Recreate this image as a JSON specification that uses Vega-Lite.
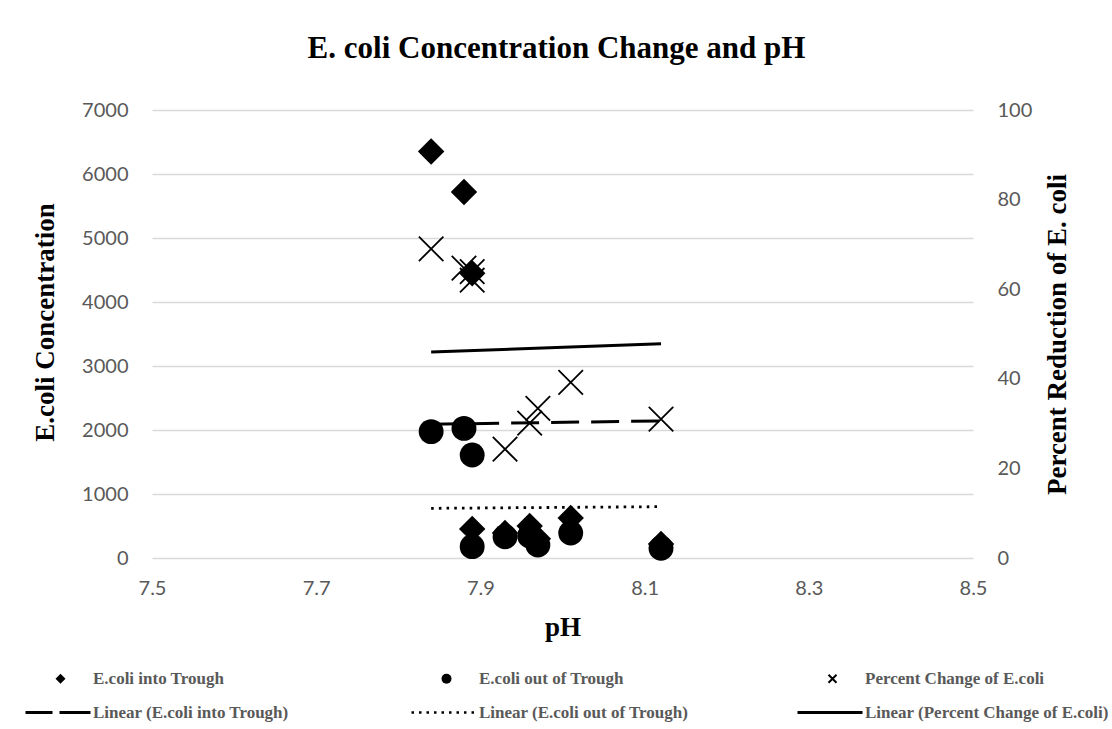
{
  "$schema": "https://vega.github.io/schema/vega-lite/v6.json",
  "width": 821,
  "height": 448,
  "autosize": {"type": "none"},
  "padding": {"left": 152, "top": 110, "right": 139, "bottom": 171},
  "background": "white",
  "title": {"text": "E. coli Concentration Change and pH", "font": "Liberation Serif", "fontSize": 31, "fontWeight": "bold", "color": "black", "anchor": "middle", "frame": "group", "offset": 35, "dx": -6},
  "datasets": {
    "points": [
      {"pH": 7.84, "value": 6350, "series": "E.coli into Trough"},
      {"pH": 7.88, "value": 5720, "series": "E.coli into Trough"},
      {"pH": 7.89, "value": 4450, "series": "E.coli into Trough"},
      {"pH": 7.89, "value": 455, "series": "E.coli into Trough"},
      {"pH": 7.93, "value": 390, "series": "E.coli into Trough"},
      {"pH": 7.96, "value": 500, "series": "E.coli into Trough"},
      {"pH": 7.97, "value": 300, "series": "E.coli into Trough"},
      {"pH": 8.01, "value": 625, "series": "E.coli into Trough"},
      {"pH": 8.12, "value": 218, "series": "E.coli into Trough"},
      {"pH": 7.84, "value": 1975, "series": "E.coli out of Trough"},
      {"pH": 7.88, "value": 2025, "series": "E.coli out of Trough"},
      {"pH": 7.89, "value": 1610, "series": "E.coli out of Trough"},
      {"pH": 7.89, "value": 177, "series": "E.coli out of Trough"},
      {"pH": 7.93, "value": 333, "series": "E.coli out of Trough"},
      {"pH": 7.96, "value": 345, "series": "E.coli out of Trough"},
      {"pH": 7.97, "value": 203, "series": "E.coli out of Trough"},
      {"pH": 8.01, "value": 390, "series": "E.coli out of Trough"},
      {"pH": 8.12, "value": 152, "series": "E.coli out of Trough"},
      {"pH": 7.84, "value": 69.0, "series": "Percent Change of E.coli"},
      {"pH": 7.88, "value": 64.7, "series": "Percent Change of E.coli"},
      {"pH": 7.89, "value": 63.9, "series": "Percent Change of E.coli"},
      {"pH": 7.89, "value": 62.0, "series": "Percent Change of E.coli"},
      {"pH": 7.93, "value": 24.3, "series": "Percent Change of E.coli"},
      {"pH": 7.96, "value": 30.1, "series": "Percent Change of E.coli"},
      {"pH": 7.97, "value": 33.4, "series": "Percent Change of E.coli"},
      {"pH": 8.01, "value": 39.2, "series": "Percent Change of E.coli"},
      {"pH": 8.12, "value": 31.0, "series": "Percent Change of E.coli"}
    ],
    "trends": [
      {"pH": 7.84, "value": 2090, "series": "Linear (E.coli into Trough)"},
      {"pH": 8.12, "value": 2142, "series": "Linear (E.coli into Trough)"},
      {"pH": 7.84, "value": 776, "series": "Linear (E.coli out of Trough)"},
      {"pH": 8.12, "value": 802, "series": "Linear (E.coli out of Trough)"},
      {"pH": 7.84, "value": 46.0, "series": "Linear (Percent Change of E.coli)"},
      {"pH": 8.12, "value": 47.8, "series": "Linear (Percent Change of E.coli)"}
    ]
  },
  "layer": [
    {
      "layer": [
        {
          "data": {"name": "points"},
          "transform": [{"filter": "datum.series === 'E.coli into Trough'"}],
          "mark": {"type": "point", "filled": true, "opacity": 1, "size": 700, "color": "black"},
          "encoding": {
            "x": {"field": "pH", "type": "quantitative", "scale": {"domain": [7.5, 8.5], "nice": false, "zero": false}, "axis": {"values": [7.5, 7.7, 7.9, 8.1, 8.3, 8.5], "format": ".1f", "title": "pH", "grid": false, "domain": false, "ticks": false, "labelFlush": false, "labelPadding": 20, "titlePadding": 16}},
            "y": {"field": "value", "type": "quantitative", "scale": {"domain": [0, 7000], "nice": false}, "axis": {"values": [0, 1000, 2000, 3000, 4000, 5000, 6000, 7000], "format": "d", "title": "E.coli Concentration", "titleY": 212, "grid": true, "domain": false, "ticks": false, "labelPadding": 24, "titlePadding": 22}},
            "shape": {"field": "series", "type": "nominal",
              "scale": {"domain": ["E.coli into Trough", "E.coli out of Trough", "Percent Change of E.coli", "Linear (E.coli into Trough)", "Linear (E.coli out of Trough)", "Linear (Percent Change of E.coli)"],
                        "range": ["diamond", "circle",
                                  "M-0.941,-0.659L0.659,0.941L0.941,0.659L-0.659,-0.941ZM-0.659,0.941L0.941,-0.659L0.659,-0.941L-0.941,0.659Z",
                                  "M-7,-0.3H-1.6V0.3H-7ZM-0.2,-0.3H6V0.3H-0.2Z",
                                  "M-7,-0.25h0.5v0.5h-0.5ZM-5.5,-0.25h0.5v0.5h-0.5ZM-4,-0.25h0.5v0.5h-0.5ZM-2.5,-0.25h0.5v0.5h-0.5ZM-1,-0.25h0.5v0.5h-0.5ZM0.5,-0.25h0.5v0.5h-0.5ZM2,-0.25h0.5v0.5h-0.5ZM3.5,-0.25h0.5v0.5h-0.5ZM5,-0.25h0.5v0.5h-0.5Z",
                                  "M-7,-0.3H6V0.3H-7Z"]},
              "legend": {"title": null, "orient": "none", "direction": "horizontal", "legendX": -100, "legendY": 560, "columns": 3, "gridAlign": "all", "columnPadding": 74, "rowPadding": 16, "symbolSize": 100, "symbolFillColor": "black", "symbolStrokeColor": "black", "symbolStrokeWidth": 0, "labelOffset": 24, "labelLimit": 400}
            }
          }
        },
        {
          "data": {"name": "points"},
          "transform": [{"filter": "datum.series === 'E.coli out of Trough'"}],
          "mark": {"type": "point", "filled": true, "opacity": 1, "size": 620, "color": "black"},
          "encoding": {
            "x": {"field": "pH", "type": "quantitative"},
            "y": {"field": "value", "type": "quantitative"},
            "shape": {"field": "series", "type": "nominal"}
          }
        },
        {
          "data": {"name": "trends"},
          "transform": [{"filter": "datum.series === 'Linear (E.coli into Trough)'"}],
          "mark": {"type": "line", "color": "black", "strokeWidth": 3, "strokeCap": "butt", "strokeDash": [28, 12]},
          "encoding": {
            "x": {"field": "pH", "type": "quantitative"},
            "y": {"field": "value", "type": "quantitative"}
          }
        },
        {
          "data": {"name": "trends"},
          "transform": [{"filter": "datum.series === 'Linear (E.coli out of Trough)'"}],
          "mark": {"type": "line", "color": "black", "strokeWidth": 2.8, "strokeCap": "butt", "strokeDash": [2.6, 5.1]},
          "encoding": {
            "x": {"field": "pH", "type": "quantitative"},
            "y": {"field": "value", "type": "quantitative"}
          }
        }
      ]
    },
    {
      "layer": [
        {
          "data": {"name": "points"},
          "transform": [{"filter": "datum.series === 'Percent Change of E.coli'"}],
          "mark": {"type": "point", "filled": false, "opacity": 1, "size": 600, "color": "black", "strokeWidth": 1.8, "shape": "M-1,-1L1,1M-1,1L1,-1"},
          "encoding": {
            "x": {"field": "pH", "type": "quantitative"},
            "y": {"field": "value", "type": "quantitative", "scale": {"domain": [0, 100], "nice": false}, "axis": {"orient": "right", "values": [0, 20, 40, 60, 80, 100], "title": "Percent Reduction of E. coli", "titleAngle": 270, "grid": false, "domain": false, "ticks": false, "labelPadding": 24, "titlePadding": 40}}
          }
        },
        {
          "data": {"name": "trends"},
          "transform": [{"filter": "datum.series === 'Linear (Percent Change of E.coli)'"}],
          "mark": {"type": "line", "color": "black", "strokeWidth": 3},
          "encoding": {
            "x": {"field": "pH", "type": "quantitative"},
            "y": {"field": "value", "type": "quantitative"}
          }
        }
      ]
    }
  ],
  "resolve": {"scale": {"y": "independent"}},
  "config": {
    "view": {"stroke": null},
    "axis": {"labelFont": "Lato", "labelFontSize": 20, "labelColor": "#595959", "titleFont": "Liberation Serif", "titleFontSize": 27, "titleFontWeight": "bold", "titleColor": "black", "gridColor": "#d9d9d9", "gridWidth": 1.3},
    "legend": {"labelFont": "Liberation Serif", "labelFontSize": 17, "labelFontWeight": "bold", "labelColor": "#595959"}
  }
}
